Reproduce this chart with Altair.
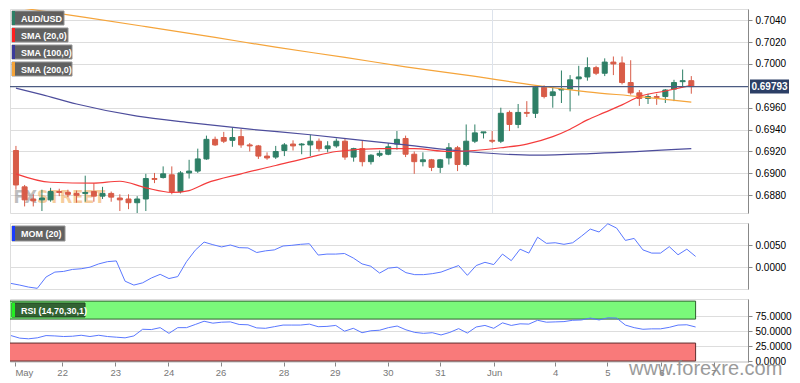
import altair as alt
import pandas as pd

FONT = "Liberation Sans"
GREEN = "#2e7f66"
RED = "#d85c48"
NAVY = "#4c5b82"
TAG = "#2c3f66"

# ---------------- data ----------------
opens = [0.69209, 0.68877, 0.68766, 0.68758, 0.68758, 0.68834, 0.68826, 0.68817, 0.68817, 0.68834,
         0.68792, 0.68817, 0.68775, 0.68766, 0.68732, 0.68766, 0.68953, 0.68962, 0.68987, 0.68834,
         0.69004, 0.69021, 0.69132, 0.69311, 0.69328, 0.69302, 0.69336, 0.69260, 0.69251, 0.69158,
         0.69149, 0.69209, 0.69268, 0.69260, 0.69260, 0.69294, 0.69226, 0.69251, 0.69294, 0.69149,
         0.69226, 0.69107, 0.69166, 0.69175, 0.69268, 0.69319, 0.69175, 0.69107, 0.69124, 0.69055,
         0.69141, 0.69234, 0.69081, 0.69294, 0.69370, 0.69302, 0.69294, 0.69557, 0.69447, 0.69557,
         0.69549, 0.69787, 0.69711, 0.69762, 0.69770, 0.69864, 0.69881, 0.69966, 0.69915, 0.70017,
         0.70009, 0.69830, 0.69736, 0.69685, 0.69702, 0.69702, 0.69770, 0.69838, 0.69847]
highs = [0.69251, 0.68894, 0.68809, 0.68851, 0.68868, 0.68860, 0.68851, 0.68843, 0.68979, 0.68911,
         0.68877, 0.68834, 0.68809, 0.68809, 0.68792, 0.68996, 0.69004, 0.69064, 0.69064, 0.69021,
         0.69124, 0.69226, 0.69345, 0.69336, 0.69379, 0.69421, 0.69404, 0.69277, 0.69260, 0.69192,
         0.69251, 0.69277, 0.69302, 0.69277, 0.69353, 0.69319, 0.69294, 0.69319, 0.69319, 0.69234,
         0.69302, 0.69175, 0.69209, 0.69277, 0.69387, 0.69345, 0.69200, 0.69192, 0.69132, 0.69132,
         0.69277, 0.69251, 0.69447, 0.69447, 0.69379, 0.69387, 0.69600, 0.69574, 0.69634, 0.69660,
         0.69804, 0.69804, 0.69787, 0.69940, 0.69898, 0.69983, 0.70060, 0.69983, 0.70051, 0.70068,
         0.70068, 0.70034, 0.69762, 0.69728, 0.69728, 0.69770, 0.69855, 0.69949, 0.69889]
lows = [0.68851, 0.68698, 0.68698, 0.68656, 0.68741, 0.68792, 0.68783, 0.68732, 0.68741, 0.68741,
        0.68766, 0.68741, 0.68656, 0.68673, 0.68638, 0.68656, 0.68911, 0.68953, 0.68809, 0.68817,
        0.68953, 0.69004, 0.69124, 0.69251, 0.69277, 0.69243, 0.69234, 0.69200, 0.69132, 0.69124,
        0.69132, 0.69158, 0.69209, 0.69175, 0.69158, 0.69200, 0.69192, 0.69234, 0.69124, 0.69107,
        0.69064, 0.69081, 0.69149, 0.69166, 0.69217, 0.69149, 0.68996, 0.69064, 0.69021, 0.69004,
        0.69081, 0.69021, 0.69064, 0.69277, 0.69319, 0.69277, 0.69277, 0.69387, 0.69413, 0.69515,
        0.69506, 0.69685, 0.69600, 0.69643, 0.69566, 0.69711, 0.69847, 0.69898, 0.69889, 0.69898,
        0.69813, 0.69719, 0.69617, 0.69634, 0.69626, 0.69643, 0.69660, 0.69787, 0.69728]
closes = [0.68894, 0.68758, 0.68749, 0.68775, 0.68834, 0.68826, 0.68809, 0.68800, 0.68826, 0.68792,
          0.68817, 0.68783, 0.68758, 0.68732, 0.68766, 0.68953, 0.68945, 0.68996, 0.68834, 0.69004,
          0.69021, 0.69132, 0.69311, 0.69260, 0.69294, 0.69328, 0.69260, 0.69251, 0.69158, 0.69141,
          0.69200, 0.69260, 0.69251, 0.69268, 0.69294, 0.69226, 0.69251, 0.69294, 0.69149, 0.69226,
          0.69107, 0.69166, 0.69183, 0.69243, 0.69311, 0.69175, 0.69107, 0.69124, 0.69055, 0.69124,
          0.69234, 0.69081, 0.69294, 0.69370, 0.69379, 0.69294, 0.69549, 0.69447, 0.69557, 0.69549,
          0.69787, 0.69702, 0.69745, 0.69770, 0.69855, 0.69881, 0.69966, 0.69915, 0.70017, 0.70000,
          0.69830, 0.69736, 0.69685, 0.69702, 0.69694, 0.69762, 0.69830, 0.69847, 0.69793]

sma20_i = [0, 4, 9, 12, 15, 18, 20, 22, 26, 30, 34, 37, 42, 46, 50, 53, 56, 59, 62, 64, 66, 68, 70, 72, 75, 78]
sma20_v = [0.68996, 0.68919, 0.68911, 0.68928, 0.68868, 0.68826, 0.68843, 0.68911, 0.68996, 0.69072,
           0.69149, 0.69200, 0.69226, 0.69226, 0.69200, 0.69209, 0.69234, 0.69268, 0.69336, 0.69404,
           0.69489, 0.69557, 0.69626, 0.69702, 0.69753, 0.69804]
sma100_i = [0, 3, 7, 14, 20, 27, 34, 40, 45, 52, 60, 67, 78]
sma100_v = [0.69779, 0.69719, 0.69634, 0.69523, 0.69464, 0.69404, 0.69353, 0.69302, 0.69260, 0.69200,
            0.69166, 0.69183, 0.69226]
sma200_i = [0, 8, 15, 23, 30, 38, 45, 52, 60, 66, 72, 78]
sma200_v = [0.70519, 0.70426, 0.70341, 0.70242, 0.70153, 0.70060, 0.69974, 0.69898, 0.69804, 0.69745,
            0.69702, 0.69651]

mom = [-0.00354, -0.00391, -0.00435, -0.00463, -0.00211, -0.00102, -0.00087, -0.00043, -0.00028, 0.00007,
       0.00080, 0.00130, 0.00146, -0.00304, -0.00391, -0.00341, -0.00233, -0.00152, -0.00246, -0.00202,
       0.00130, 0.00385, 0.00565, 0.00507, 0.00457, 0.00500, 0.00441, 0.00435, 0.00333, 0.00370,
       0.00391, 0.00478, 0.00493, 0.00515, 0.00528, 0.00276, 0.00298, 0.00298, 0.00311, 0.00211,
       0.00080, 0.00028, -0.00124, -0.00015, 0.00007, -0.00115, -0.00159, -0.00159, -0.00137, -0.00102,
       -0.00028, 0.00043, -0.00174, 0.00043, 0.00115, 0.00065, 0.00298, 0.00152, 0.00407, 0.00320,
       0.00674, 0.00537, 0.00550, 0.00515, 0.00550, 0.00696, 0.00854, 0.00789, 0.00972, 0.00876,
       0.00602, 0.00646, 0.00391, 0.00320, 0.00320, 0.00463, 0.00283, 0.00407, 0.00246]
rsi = [42.5, 38.2, 37.1, 38.7, 42.5, 41.9, 40.9, 41.4, 43.0, 40.9,
       43.0, 40.9, 39.8, 38.7, 41.9, 53.0, 52.5, 55.7, 46.2, 55.7,
       55.7, 61.0, 66.4, 63.2, 64.8, 65.3, 61.0, 60.5, 55.3, 54.6,
       57.3, 60.0, 60.0, 60.0, 61.6, 57.3, 57.8, 59.4, 49.8, 54.6,
       47.3, 50.5, 51.4, 55.7, 58.4, 52.1, 47.8, 46.2, 47.3, 43.5,
       47.8, 54.1, 46.7, 56.8, 59.4, 54.6, 63.7, 59.4, 62.1, 61.6,
       68.0, 64.8, 65.3, 65.8, 68.0, 68.5, 71.7, 68.5, 72.1, 71.7,
       60.0, 55.7, 53.0, 53.7, 53.7, 56.2, 60.0, 60.5, 56.8]

tick_pos = [0.45, 5.83, 11.88, 17.94, 23.88, 31.05, 36.88, 42.94, 48.88, 55.04, 62.0, 67.94, 74.1, 80.04]
tick_labels = ["May", "22", "23", "24", "26", "28", "29", "30", "31", "Jun", "4", "5", "6", "7"]
main_ticks = [0.688, 0.690, 0.692, 0.694, 0.696, 0.700, 0.702, 0.704]
mom_ticks = [0.0, 0.005]
rsi_ticks = [0, 25, 50, 75]
rsi_levels_lo = [70, 0]
rsi_levels_hi = [100, 30]
month_marker = [55.04]

# ---------------- layout ----------------
W = 738
H1, H2, H3 = 204, 66, 63
XDOM = [-0.11, 83.97]

n = len(closes)
idx = list(range(n))
candles = pd.DataFrame({"i": idx, "o": opens, "h": highs, "l": lows, "c": closes})

xs = alt.Scale(domain=XDOM, nice=False, zero=False)
xnone = alt.X("i:Q", scale=xs, axis=None)

ys_main = alt.Scale(domain=[0.68638, 0.70502], nice=False, zero=False)
ax_main = alt.Axis(orient="right", values=main_ticks, format=".4f", title=None,
                   tickSize=4, labelPadding=3, grid=True)


def yM(field):
    return alt.Y(field, scale=ys_main, axis=ax_main)


def tag(label, stripe, x1, x2, y1, y2, fill="#595959", stroke="#8f8f8f"):
    b = alt.Chart(pd.DataFrame({"t": [label]}))
    box = b.mark_rect(fill=fill, stroke=stroke, strokeWidth=1, opacity=0.95).encode(
        x=alt.value(x1), x2=alt.value(x2), y=alt.value(y1), y2=alt.value(y2))
    st = b.mark_rect(fill=stripe).encode(
        x=alt.value(x1), x2=alt.value(x1 + 3), y=alt.value(y1), y2=alt.value(y2))
    tx = b.mark_text(align="left", baseline="middle", color="white", fontSize=9,
                     fontWeight="bold", font=FONT).encode(
        x=alt.value(x1 + 9), y=alt.value((y1 + y2) / 2 + 0.5), text="t:N")
    return [box, st, tx]


col = alt.condition("datum.c >= datum.o", alt.value(GREEN), alt.value(RED))
base = alt.Chart(candles)

WMFONT = "Liberation Sans Narrow, DejaVu Sans Condensed, Liberation Sans"
wm_fx = alt.Chart(pd.DataFrame({"t": ["FX"]})).mark_text(
    align="right", baseline="alphabetic", fontSize=18, fontWeight="bold", font=WMFONT,
    color="#8a8a8a", opacity=0.55).encode(x=alt.value(27), y=alt.value(194), text="t:N")
wm_st = alt.Chart(pd.DataFrame({"t": ["STREET"]})).mark_text(
    align="left", baseline="alphabetic", fontSize=18, fontWeight="bold", font=WMFONT,
    color="#f0a550", opacity=0.55).encode(x=alt.value(27), y=alt.value(194), text="t:N")

jun_rule = alt.Chart(pd.DataFrame({"i": month_marker})).mark_rule(
    color="#dde3ec", strokeWidth=1).encode(x=xnone)

wicks = base.mark_rule(strokeWidth=1).encode(x=xnone, y=yM("l:Q"), y2="h:Q", color=col)
bodies = base.mark_bar(size=5, strokeWidth=1).encode(
    x=xnone, y=yM("o:Q"), y2="c:Q", color=col, stroke=col)


def sma(ii, vv, color):
    return alt.Chart(pd.DataFrame({"i": ii, "v": vv})).mark_line(
        color=color, strokeWidth=1.2, clip=True, interpolate="monotone").encode(x=xnone, y=yM("v:Q"))


l200 = sma(sma200_i, sma200_v, "#f5a43a")
l100 = sma(sma100_i, sma100_v, "#4d4d9c")
l20 = sma(sma20_i, sma20_v, "#f43c3c")

last = pd.DataFrame({"p": [closes[-1]], "lab": [f"{closes[-1]:.5f}"]})
pline = alt.Chart(last).mark_rule(color=NAVY, strokeWidth=1.3).encode(y=yM("p:Q"))
ptag = alt.Chart(last).mark_rect(color=TAG, yOffset=-7, y2Offset=7).encode(
    x=alt.value(W + 2), x2=alt.value(W + 41), y=yM("p:Q"), y2="p:Q")
ptxt = alt.Chart(last).mark_text(color="white", fontSize=10, fontWeight="bold", font=FONT,
                                 align="center", baseline="middle").encode(
    x=alt.value(W + 21.5), y=yM("p:Q"), text="lab:N")

legend_layers = (tag("AUD/USD", GREEN, 2, 54, 2, 16)
                 + tag("SMA (20,0)", "#ff2020", 2, 58, 19, 33)
                 + tag("SMA (100,0)", "#3a3a9a", 2, 62, 36, 50)
                 + tag("SMA (200,0)", "#f5a43a", 2, 62, 53, 67))

main = alt.layer(wm_fx, wm_st, jun_rule, wicks, bodies, l200, l100, l20, pline, ptag, ptxt,
                 *legend_layers).properties(width=W, height=H1)

# ---------------- MOM ----------------
mom_df = pd.DataFrame({"i": idx, "m": mom})
mom_line = alt.Chart(mom_df).mark_line(color="#5a78ff", strokeWidth=1).encode(
    x=xnone,
    y=alt.Y("m:Q", scale=alt.Scale(domain=[-0.00478, 0.00989], nice=False, zero=False),
            axis=alt.Axis(orient="right", values=mom_ticks, format=".4f", title=None,
                          tickSize=4, labelPadding=3, grid=True)))
mom_chart = alt.layer(mom_line, *tag("MOM (20)", "#1a3cff", 2, 55, 3, 18)).properties(width=W, height=H2)

# ---------------- RSI ----------------
bands = pd.DataFrame({"a": [-1, -1], "b": [n - 1, n - 1], "lo": rsi_levels_lo, "hi": rsi_levels_hi,
                      "k": ["ob", "os"]})
rsi_scale = alt.Scale(domain=[-1.6, 103.5], nice=False, zero=False)
rsi_axis = alt.Axis(orient="right", values=rsi_ticks, format=".4f", title=None,
                    tickSize=4, labelPadding=3, grid=True)
label_expr = ("[" + ",".join(f"'{t}'" for t in tick_labels) + "][indexof(["
              + ",".join(repr(p) for p in tick_pos) + "], datum.value)]")
x_axis = alt.Axis(values=tick_pos, labelExpr=label_expr, title=None, grid=False, tickSize=4,
                  labelPadding=1, labelFlush=8, domain=False, labelColor="#777", labelFontSize=9.5)
xr = alt.X("i:Q", scale=xs, axis=x_axis)

band_rect = alt.Chart(bands).mark_rect(clip=True, strokeWidth=1).encode(
    x=xr, x2="b:Q",
    y=alt.Y("lo:Q", scale=rsi_scale, axis=rsi_axis), y2="hi:Q",
    fill=alt.Color("k:N", scale=alt.Scale(domain=["ob", "os"], range=["#7af97a", "#f97a7a"]), legend=None),
    stroke=alt.Stroke("k:N", scale=alt.Scale(domain=["ob", "os"], range=["#2f5f2f", "#5f2f2f"]), legend=None),
).transform_calculate(i="datum.a")
rsi_df = pd.DataFrame({"i": idx, "r": rsi})
rsi_line = alt.Chart(rsi_df).mark_line(color="#5a78ff", strokeWidth=1).encode(
    x=xr, y=alt.Y("r:Q", scale=rsi_scale, axis=rsi_axis))
wm = alt.Chart(pd.DataFrame({"t": ["www.forexre.com"]})).mark_text(
    align="left", baseline="alphabetic", fontSize=20, font=FONT, color="#8a8a8a", opacity=0.85).encode(
    x=alt.value(619), y=alt.value(H3 + 13), text="t:N")
rsi_chart = alt.layer(band_rect, rsi_line,
                      *tag("RSI (14,70,30,1)", "#22ee22", 2, 75, 4, 18, fill="#2f5a2f", stroke="#1e3a1e"),
                      wm).properties(width=W, height=H3)

chart = alt.vconcat(main, mom_chart, rsi_chart, spacing=7).properties(
    padding={"left": 0, "top": 0, "right": 0, "bottom": 0}
).configure_view(fill="#f6f6f6", stroke="#d3dae6", strokeWidth=1).configure_axis(
    labelFont=FONT, labelColor="#666", labelFontSize=9, tickColor="#c4c4c4", gridColor="#e3e3e3",
    domain=False).configure(background="white")

chart.save("out.html", embed_options={"renderer": "svg", "actions": False})
